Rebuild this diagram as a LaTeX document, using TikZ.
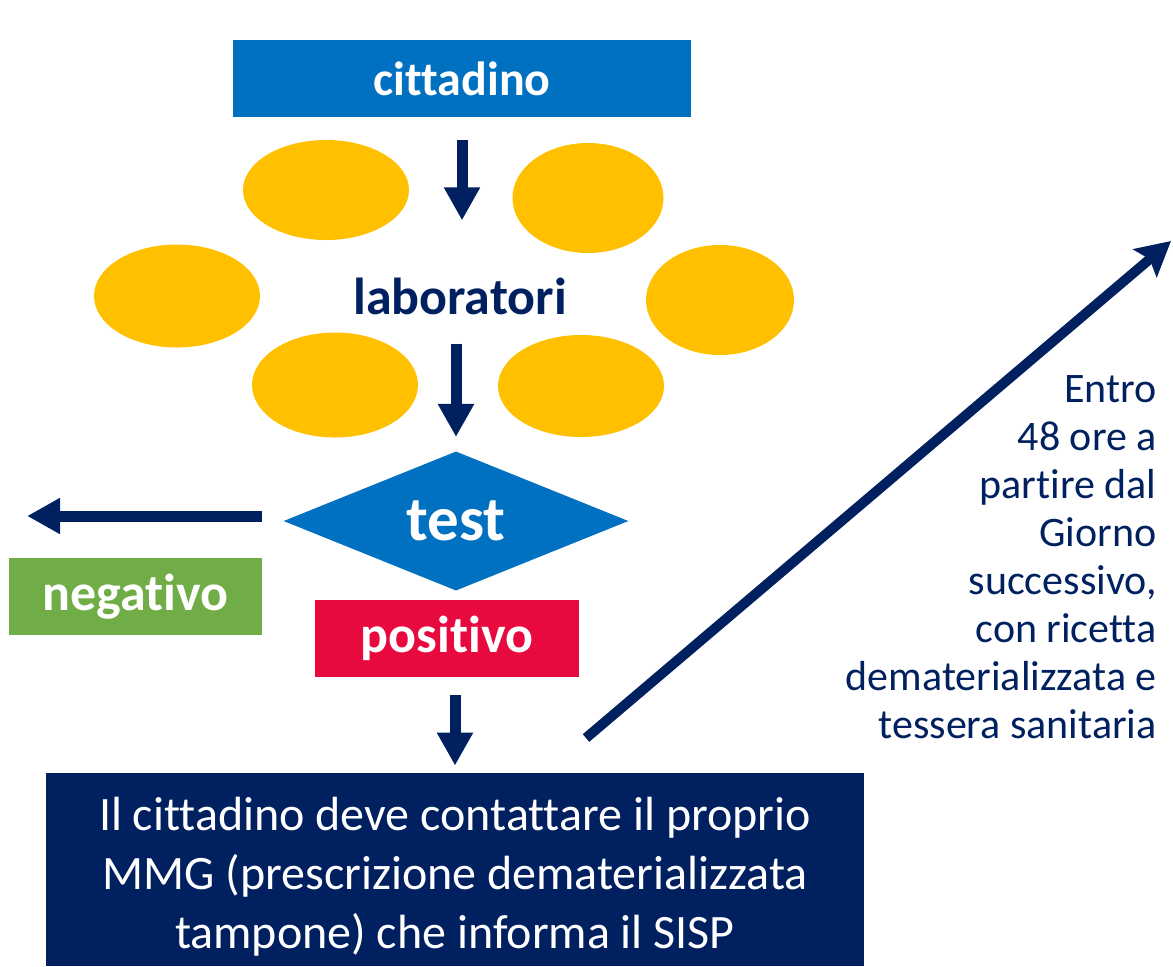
\documentclass[tikz,border=0pt]{standalone}
\usepackage{fontspec}
\setmainfont{Carlito}[Ligatures=CommonOff]
\usetikzlibrary{shapes.geometric,arrows.meta}
\definecolor{azzurro}{HTML}{0070C0}
\definecolor{blunotte}{HTML}{002060}
\definecolor{giallo}{HTML}{FFC000}
\definecolor{verde}{HTML}{70AD47}
\definecolor{rosso}{HTML}{E8093F}
\tikzset{
  box/.style={rectangle,inner sep=0pt,text=white,font=\bfseries\fontsize{26}{30}\selectfont},
  lab/.style={ellipse,fill=giallo,inner sep=0pt},
  freccia/.style={blunotte,line width=5.5pt,-{Triangle[length=16.5pt,width=17pt]}},
  frecciadiag/.style={blunotte,line width=5pt,-{Stealth[length=17pt,width=18pt,inset=3pt]}}
}
\begin{document}
\begin{tikzpicture}[x=0.5pt,y=-0.5pt]
\useasboundingbox (0,0) rectangle (1173,966);
% cittadino e laboratori
\node[box,fill=azzurro,minimum width=229pt,minimum height=38.5pt,font=\bfseries\fontsize{24}{28}\selectfont] (cittadino) at (462,78.5) {cittadino};
\node[lab,minimum width=83pt,minimum height=50pt] (lab1) at (326,190) {};
\node[lab,minimum width=75.5pt,minimum height=55pt] (lab2) at (588,198) {};
\node[lab,minimum width=83pt,minimum height=51.5pt] (lab3) at (177,296) {};
\node[lab,minimum width=74pt,minimum height=55pt] (lab4) at (720,300) {};
\node[lab,minimum width=83pt,minimum height=52.5pt] (lab5) at (335,385) {};
\node[lab,minimum width=83pt,minimum height=51pt] (lab6) at (581,386) {};
\node[inner sep=0pt,text=blunotte,font=\bfseries\fontsize{26}{30}\selectfont] (laboratori) at (460,296) {laboratori};
% test
\node[diamond,fill=azzurro,inner sep=0pt,minimum width=172.5pt,minimum height=69pt,text=white,font=\bfseries\fontsize{31.5}{36}\selectfont] (test) at (456,521) {test};
\node[box,fill=verde,minimum width=126.5pt,minimum height=38.5pt] (negativo) at (135.5,596.5) {negativo};
\node[box,fill=rosso,minimum width=132pt,minimum height=38.5pt] (positivo) at (447,638.5) {positivo};
% esito positivo
\node[rectangle,fill=blunotte,inner sep=0pt,minimum width=409pt,minimum height=96.5pt,text=white,align=center,font=\fontsize{24}{29.5}\selectfont] (mmg) at (455,869.5) {\rule{0pt}{24pt}Il cittadino deve contattare il proprio\\MMG (prescrizione dematerializzata\\tampone) che informa il SISP};
\node[anchor=north east,inner sep=0pt,align=right,text=blunotte,font=\fontsize{21}{24}\selectfont] (entro) at (1157,375) {Entro\\48 ore a\\partire dal\\Giorno\\successivo,\\con ricetta\\dematerializzata e\\tessera sanitaria};
% frecce
\coordinate (p3) at (positivo.south -| mmg.north);
\coordinate (d0) at (586,738);
\coordinate (d1) at (1171,241);
\draw[freccia] ([yshift=-11.5pt]cittadino.south) -- ++(0,80);
\draw[freccia] ([yshift=53.5pt]test.north) -- ([yshift=7pt]test.north);
\draw[freccia] ([xshift=-10.5pt,yshift=2.5pt]test.west) -- ++(-235,0);
\draw[freccia] ([yshift=-9pt]p3) -- ([yshift=3.5pt]mmg.north);
\draw[frecciadiag] (d0) -- (d1);
\end{tikzpicture}
\end{document}
